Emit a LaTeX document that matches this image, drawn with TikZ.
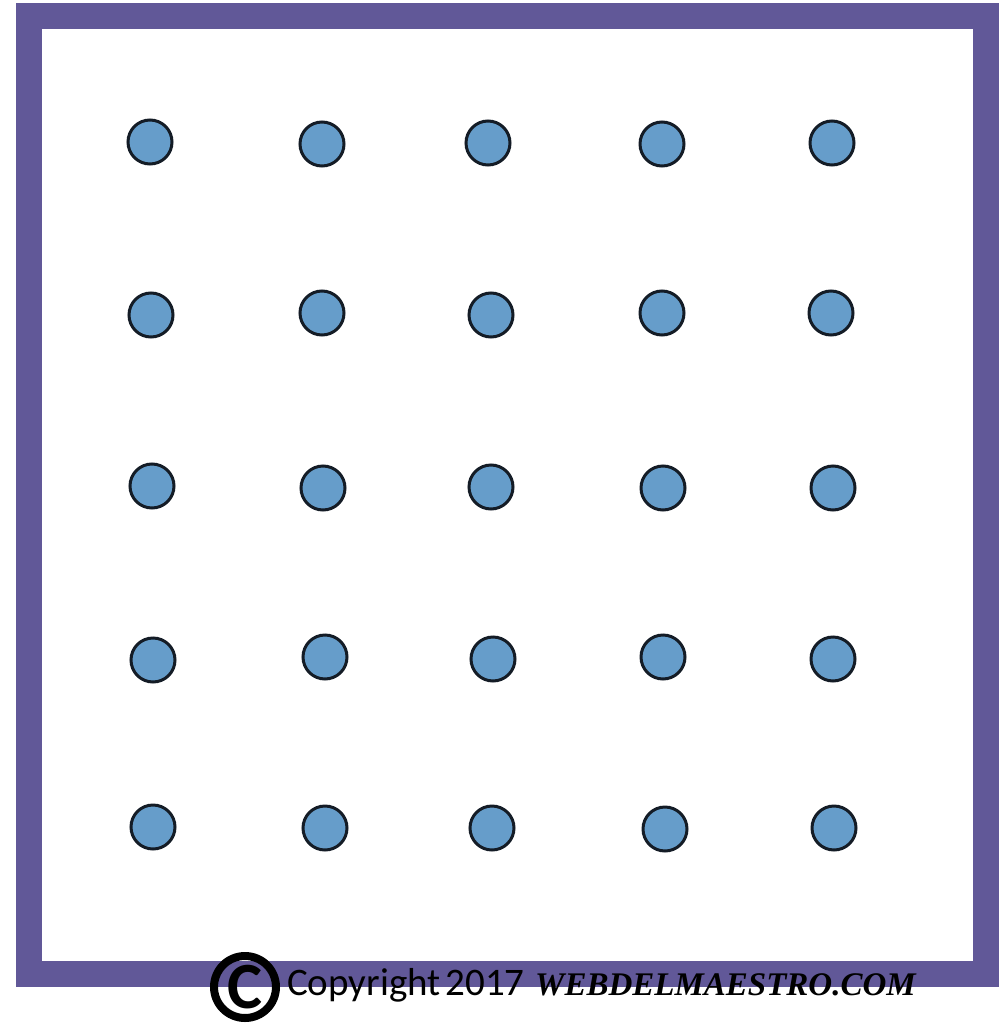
\documentclass[tikz,border=0pt]{standalone}
\usepackage{fontspec}
\newfontfamily\carlito{Carlito}
\newfontfamily\libserif{Liberation Serif}
\definecolor{framepurple}{RGB}{97,88,152}
\definecolor{dotblue}{RGB}{102,157,202}
\definecolor{dotline}{RGB}{20,28,38}
\begin{document}
\begin{tikzpicture}[x=1pt,y=-1pt,
  dot/.style={circle,draw=dotline,fill=dotblue,line width=3pt,minimum size=44pt,inner sep=0pt},
  frameline/.style={draw=framepurple,line width=26pt,line join=miter},
  copytext/.style={anchor=base west,inner sep=0pt,font=\carlito\fontsize{39}{45}\selectfont},
  sitetext/.style={anchor=base west,inner sep=0pt,font=\libserif\bfseries\itshape\fontsize{33}{40}\selectfont}]
\useasboundingbox[fill=white] (0,0) rectangle (1005,1025);
% frame
\draw[frameline] (29,16.5) rectangle (985.5,973.5);
% dots
\node[dot] (d11) at (150,142) {};
\node[dot] (d12) at (322,144) {};
\node[dot] (d13) at (488,143) {};
\node[dot] (d14) at (662,144) {};
\node[dot] (d15) at (832,143) {};
\node[dot] (d21) at (151,315) {};
\node[dot] (d22) at (322,313) {};
\node[dot] (d23) at (491,315) {};
\node[dot] (d24) at (662,313) {};
\node[dot] (d25) at (831,313) {};
\node[dot] (d31) at (152,486) {};
\node[dot] (d32) at (323,488) {};
\node[dot] (d33) at (491,487) {};
\node[dot] (d34) at (663,488) {};
\node[dot] (d35) at (833,488) {};
\node[dot] (d41) at (153,660) {};
\node[dot] (d42) at (325,657) {};
\node[dot] (d43) at (493,659) {};
\node[dot] (d44) at (663,657) {};
\node[dot] (d45) at (833,659) {};
\node[dot] (d51) at (153,827) {};
\node[dot] (d52) at (325,828) {};
\node[dot] (d53) at (492,828) {};
\node[dot] (d54) at (665,829) {};
\node[dot] (d55) at (834,828) {};
% copyright
\node[circle,draw=black,line width=8pt,minimum size=62pt,inner sep=0pt] (csym) at (245,987) {};
\node[inner sep=0pt,font=\carlito\bfseries\fontsize{66}{66}\selectfont] (cletter) at (245,987) {C};
\node[copytext] (copy) at (287,995) {Copyright\hspace{5pt}2017};
\node[sitetext] (site) at (535,995) {WEBDELMAESTRO.COM};
\end{tikzpicture}
\end{document}
